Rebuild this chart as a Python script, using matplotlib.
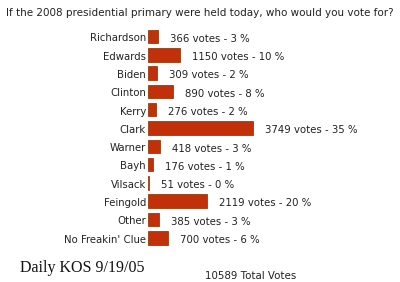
import matplotlib
matplotlib.use("Agg")
import matplotlib.pyplot as plt

categories = ["Richardson", "Edwards", "Biden", "Clinton", "Kerry", "Clark",
              "Warner", "Bayh", "Vilsack", "Feingold", "Other", "No Freakin' Clue"]
votes = [366, 1150, 309, 890, 276, 3749, 418, 176, 51, 2119, 385, 700]
percents = [3, 10, 2, 8, 2, 35, 3, 1, 0, 20, 3, 6]
total_votes = 10589
title = "If the 2008 presidential primary were held today, who would you vote for?"
source = "Daily KOS 9/19/05"

W, H = 400, 282
fig = plt.figure(figsize=(W / 100, H / 100), dpi=100)
fig.patch.set_facecolor("white")

# axes: x=0 at pixel 148, spanning to right edge
ax = fig.add_axes([148 / W, 0, 1 - 148 / W, 1])
px_per_vote = 105 / 3749
ax.set_xlim(0, (W - 148) / px_per_vote)
row0, step = 36.5, 18.3
ax.set_ylim((H - row0) / step, -row0 / step)

ypos = list(range(len(categories)))
ax.barh(ypos, votes, height=0.74, color="#C2300A", edgecolor="#9A3A0C", linewidth=0.6)

fs = 7.3
for y, v, p in zip(ypos, votes, percents):
    ax.annotate(f"{v} votes - {p} %", xy=(v, y), xytext=(8.6, -1.6),
                textcoords="offset points", ha="left", va="center",
                fontsize=fs, color="#222222", family="DejaVu Sans")

for y, c in zip(ypos, categories):
    ax.annotate(c, xy=(0, y), xytext=(-1.5, -1.3), textcoords="offset points",
                ha="right", va="center", fontsize=fs, color="#222222",
                family="DejaVu Sans", annotation_clip=False)

ax.axis("off")

fig.text(6 / W, 1 - 13 / H, title, ha="left", va="center", fontsize=7.5,
         color="#222222", family="DejaVu Sans")
fig.text(20 / W, 1 - 268 / H, source, ha="left", va="center", fontsize=11.5,
         color="#111111", family="Liberation Serif")
fig.text(205 / W, 1 - 276 / H, f"{total_votes} Total Votes", ha="left", va="center",
         fontsize=7.4, color="#222222", family="DejaVu Sans")

fig.savefig("out.png", dpi=100, facecolor="white")
